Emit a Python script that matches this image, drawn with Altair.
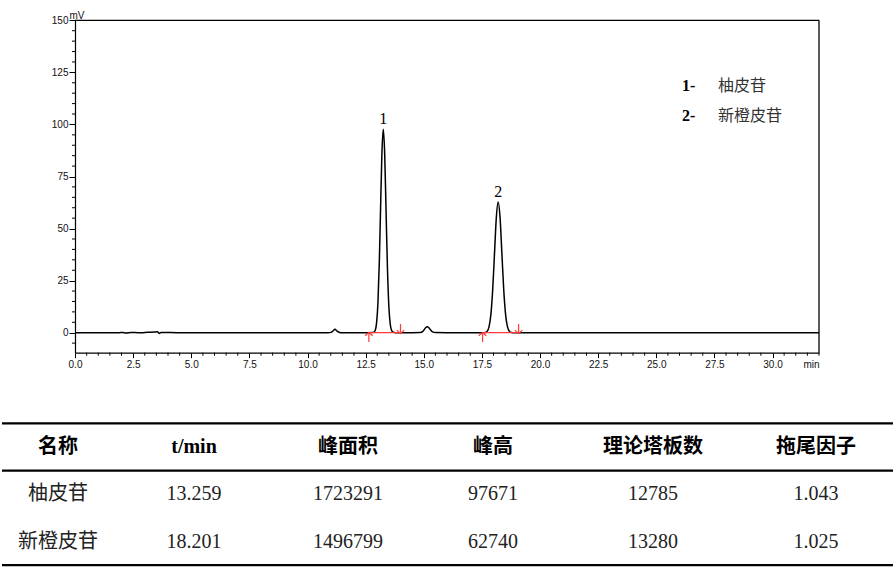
import altair as alt
import pandas as pd

# ---------------- chromatogram trace (time in min, signal in mV) ----------------
trace_t = [0.0, 1.0, 1.9, 2.05, 2.2, 2.4, 2.6, 2.8, 3.0, 3.2, 3.4, 3.55, 3.62, 3.7,
           3.9, 4.1, 4.4, 5.0, 6.0, 7.0, 8.0, 9.0, 10.0, 10.9, 11.0, 11.08, 11.18,
           11.28, 11.38, 11.5, 12.0, 12.6, 12.78, 12.85, 12.91, 12.97, 13.03, 13.09,
           13.14, 13.20, 13.259, 13.32, 13.38, 13.44, 13.50, 13.56, 13.62, 13.69,
           13.78, 14.0, 14.5, 14.85, 14.95, 15.03, 15.09, 15.15, 15.22, 15.29, 15.38,
           15.5, 16.0, 17.0, 17.55, 17.65, 17.73, 17.81, 17.89, 17.965, 18.04, 18.12,
           18.201, 18.28, 18.36, 18.44, 18.52, 18.60, 18.68, 18.77, 18.88, 19.2, 20.0,
           22.0, 25.0, 27.5, 28.5, 30.0, 32.0]
trace_mv = [0.0, 0.0, 0.0, 0.15, -0.1, 0.05, 0.1, -0.05, 0.1, 0.2, 0.3, 0.4, -0.35, 0.1,
            0.15, 0.05, 0.0, 0.0, 0.0, 0.0, 0.0, 0.0, 0.0, 0.02, 0.15, 0.7, 1.6,
            0.7, 0.15, 0.0, 0.0, 0.0, 0.05, 0.2, 1.1, 4.6, 14.4, 34.4,
            58.3, 86.0, 97.671, 85.8, 58.0, 30.5, 12.5, 4.0, 1.0, 0.2,
            0.03, 0.0, 0.0, 0.05, 0.5, 1.6, 2.5, 2.9, 2.4, 1.4, 0.4,
            0.05, 0.0, 0.0, 0.02, 0.14, 0.74, 2.94, 9.05, 20.6, 37.3, 55.0,
            62.74, 55.6, 38.3, 20.6, 8.7, 2.9, 0.75, 0.15, 0.02, 0.0, 0.0,
            0.0, 0.0, 0.0, 0.0, 0.0, 0.0]

# peaks: number, retention time, height (mV)
peak_no = ["1", "2"]
peak_t = [13.259, 18.201]
peak_h = [97.671, 62.740]

# integration limits
int_start = [12.64, 17.53]
int_end = [14.00, 19.08]

legend_no = ["1-", "2-"]
compounds = ["柚皮苷", "新橙皮苷"]

# axis ticks
x_major = [i * 2.5 for i in range(13)]
x_minor = [i * 0.5 for i in range(65) if (i * 0.5) % 2.5 != 0]
y_major = list(range(0, 151, 25))
y_minor = [v for v in range(-5, 150, 5) if v % 25 != 0]

# ---------------- results table ----------------
headers = ["名称", "t/min", "峰面积", "峰高", "理论塔板数", "拖尾因子"]
ret_time = ["13.259", "18.201"]
peak_area = ["1723291", "1496799"]
peak_height = ["97671", "62740"]
plates = ["12785", "13280"]
tailing = ["1.043", "1.025"]
rule_rows = [-0.5, 0.5, 2.5]

W, H = 895, 575
PX_L, PX_R = 75, 819
PX_TOP, PX_BOT = 20.3, 352.7
T_MAX, MV_MIN, MV_MAX = 32, -9.6, 150

RED = "#ff3b3b"
SERIF = "Liberation Serif"
SANS = "Liberation Sans"
CJK = "Noto Sans CJK SC"

xs = alt.Scale(domain=[0, T_MAX], range=[PX_L, PX_R], nice=False, zero=False)
ys = alt.Scale(domain=[MV_MIN, MV_MAX], range=[PX_BOT, PX_TOP], nice=False, zero=False)

x_axis = alt.Axis(
    orient="bottom", offset=-(H - PX_BOT), values=x_major, format=".1f", grid=False,
    tickSize=5, tickColor="black", domainColor="black", domainWidth=1.2,
    labelFont=SANS, labelFontSize=10, labelColor="#111", labelPadding=2,
    labelOverlap=False, labelFlush=False,
    title="min", titleFont=SANS, titleFontSize=10, titleFontWeight="normal",
    titleColor="#111", titleX=PX_R, titleY=7, titleAlign="right", titleBaseline="top",
)
y_axis = alt.Axis(
    orient="left", offset=-PX_L, values=y_major, format="d", grid=False,
    tickSize=6, tickColor="black", domainColor="black", domainWidth=1.2,
    labelFont=SANS, labelFontSize=10, labelColor="#111", labelPadding=1,
    labelOverlap=False, labelFlush=False,
    title="mV", titleFont=SANS, titleFontSize=10, titleFontWeight="normal",
    titleColor="#111", titleAngle=0, titleX=-6, titleY=18, titleAlign="left",
    titleBaseline="alphabetic",
)

trace = pd.DataFrame({"t": trace_t, "mV": trace_mv})
line = alt.Chart(trace).mark_line(color="black", strokeWidth=1.5, interpolate="monotone").encode(
    x=alt.X("t:Q", scale=xs, axis=x_axis),
    y=alt.Y("mV:Q", scale=ys, axis=y_axis),
)

# minor ticks along both axes
x_minor_ticks = alt.Chart(pd.DataFrame({"t": x_minor})).mark_rule(
    color="black", strokeWidth=1).encode(
    x=alt.X("t:Q", scale=xs), y=alt.value(PX_BOT), y2=alt.value(PX_BOT + 3))
y_minor_ticks = alt.Chart(pd.DataFrame({"mV": y_minor})).mark_rule(
    color="black", strokeWidth=1).encode(
    y=alt.Y("mV:Q", scale=ys), x=alt.value(PX_L - 3), x2=alt.value(PX_L + 1))

# plot frame: top and right edges
frame_top = alt.Chart(pd.DataFrame({"t": [0], "t2": [T_MAX], "mV": [MV_MAX]})).mark_rule(
    color="black", strokeWidth=1.3).encode(
    x=alt.X("t:Q", scale=xs), x2="t2:Q", y=alt.Y("mV:Q", scale=ys))
frame_right = alt.Chart(pd.DataFrame({"t": [T_MAX], "mV": [MV_MIN], "mV2": [MV_MAX]})).mark_rule(
    color="black", strokeWidth=1.3).encode(
    x=alt.X("t:Q", scale=xs), y=alt.Y("mV:Q", scale=ys), y2="mV2:Q")

# integration baselines with start/end markers
integ = pd.DataFrame({"t": int_start, "t2": int_end, "mV": [0.0] * len(int_start)})
integ_line = alt.Chart(integ).mark_rule(color=RED, strokeWidth=1.2).encode(
    x=alt.X("t:Q", scale=xs), x2="t2:Q", y=alt.Y("mV:Q", scale=ys))
up_arrow = alt.Chart(integ).mark_point(
    shape="M0,-1L0,1M-0.8,-0.3L0,-1L0.8,-0.3", size=90, filled=False,
    color=RED, strokeWidth=1.2, yOffset=4.5, opacity=1).encode(
    x=alt.X("t:Q", scale=xs), y=alt.Y("mV:Q", scale=ys))
down_arrow = alt.Chart(integ).mark_point(
    shape="M0,-1L0,1M-0.8,0.3L0,1L0.8,0.3", size=90, filled=False,
    color=RED, strokeWidth=1.2, yOffset=-4, opacity=1).encode(
    x=alt.X("t2:Q", scale=xs), y=alt.Y("mV:Q", scale=ys))

peaks = pd.DataFrame({"t": peak_t, "mV": peak_h, "no": peak_no})
peak_labels = alt.Chart(peaks).mark_text(
    font=SERIF, fontSize=16, baseline="bottom", dy=-2, color="black").encode(
    x=alt.X("t:Q", scale=xs), y=alt.Y("mV:Q", scale=ys), text="no:N")

# compound key in the upper right
key_layers = []
for i, (no, name) in enumerate(zip(legend_no, compounds)):
    yy = 86 + i * 29.5
    key_layers.append(alt.Chart(pd.DataFrame({"s": [no]})).mark_text(
        font=SERIF, fontSize=16, fontWeight="bold", align="left", baseline="middle",
        color="black").encode(x=alt.value(682), y=alt.value(yy), text="s:N"))
    key_layers.append(alt.Chart(pd.DataFrame({"s": [name]})).mark_text(
        font=CJK, fontSize=16, align="left", baseline="middle",
        color="#333").encode(x=alt.value(718), y=alt.value(yy), text="s:N"))

chrom = alt.layer(line, x_minor_ticks, y_minor_ticks, frame_top, frame_right, integ_line,
                  up_arrow, down_arrow, peak_labels, *key_layers)

# ---------------- table ----------------
rs = alt.Scale(domain=[0, 2], range=[447, 541.5], nice=False, zero=False)
col_x = [58, 194, 348, 493, 653, 816]
columns = [compounds, ret_time, peak_area, peak_height, plates, tailing]

table_layers = [
    alt.Chart(pd.DataFrame({"r": rule_rows})).mark_rule(color="black", strokeWidth=2.3).encode(
        x=alt.value(2), x2=alt.value(893), y=alt.Y("r:Q", scale=rs, axis=None))
]
for j, (hdr, vals) in enumerate(zip(headers, columns)):
    is_cjk_hdr = hdr != "t/min"
    table_layers.append(alt.Chart(pd.DataFrame({"r": [0], "s": [hdr]})).mark_text(
        font=CJK if is_cjk_hdr else SERIF, fontSize=20, fontWeight="bold",
        baseline="middle", align="center", color="black").encode(
        x=alt.value(col_x[j]), y=alt.Y("r:Q", scale=rs, axis=None), text="s:N"))
    table_layers.append(alt.Chart(pd.DataFrame({"r": [1, 2], "s": vals})).mark_text(
        font=CJK if j == 0 else SERIF, fontSize=20, baseline="middle", align="center",
        color="#222").encode(
        x=alt.value(col_x[j]), y=alt.Y("r:Q", scale=rs, axis=None), text="s:N"))

table = alt.layer(*table_layers)

chart = alt.layer(chrom, table).resolve_scale(x="independent", y="independent").properties(
    width=W, height=H, autosize=alt.AutoSizeParams(type="none"), padding=0,
    background="white",
).configure_view(stroke=None)

chart.save("out.html", embed_options={"renderer": "svg", "actions": False})
